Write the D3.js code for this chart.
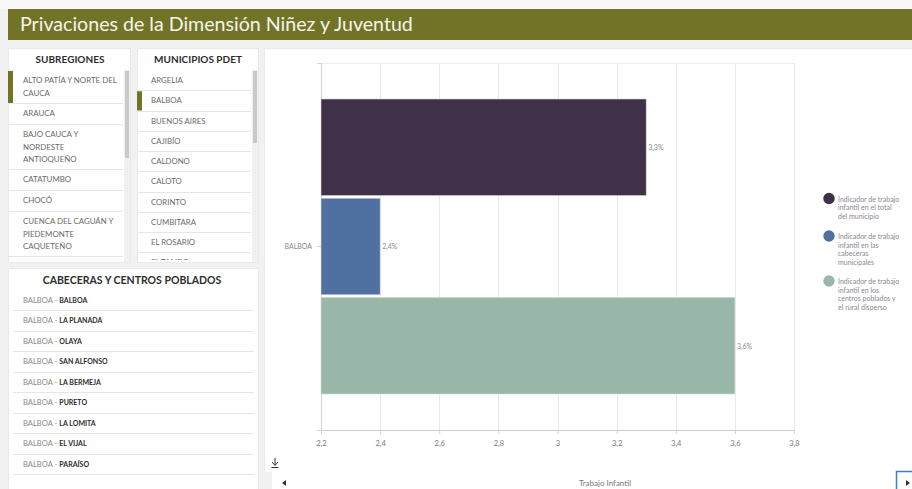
<!DOCTYPE html>
<html>
<head>
<meta charset="utf-8">
<script src="https://cdn.jsdelivr.net/npm/d3@7"></script>
<style>
  html, body { margin: 0; padding: 0; background: #f7f7f7; }
  svg { display: block; font-family: Lato, "Open Sans", sans-serif; }
</style>
</head>
<body>
<svg id="tablero"></svg>
<script>
// datos
var titulo = "Privaciones de la Dimensión Niñez y Juventud";
var subregiones = [
  ["ALTO PATÍA Y NORTE DEL", "CAUCA"],
  ["ARAUCA"],
  ["BAJO CAUCA Y", "NORDESTE", "ANTIOQUEÑO"],
  ["CATATUMBO"],
  ["CHOCÓ"],
  ["CUENCA DEL CAGUÁN Y", "PIEDEMONTE", "CAQUETEÑO"]
];
var municipios = ["ARGELIA", "BALBOA", "BUENOS AIRES", "CAJIBÍO", "CALDONO", "CALOTO",
  "CORINTO", "CUMBITARA", "EL ROSARIO", "EL TAMBO"];
var centros = ["BALBOA", "LA PLANADA", "OLAYA", "SAN ALFONSO", "LA BERMEJA", "PURETO",
  "LA LOMITA", "EL VIJAL", "PARAÍSO"];
var categorias = ["BALBOA"];
var series = [
  ["Indicador de trabajo", "infantil en el total", "del municipio"],
  ["Indicador de trabajo", "infantil en las", "cabeceras", "municipales"],
  ["Indicador de trabajo", "infantil en los", "centros poblados y", "el rural disperso"]
];
var valores = [3.3, 2.4, 3.6];
var colores = ["#3f3148", "#5170a2", "#99b7a9"];
var ticksX = [2.2, 2.4, 2.6, 2.8, 3.0, 3.2, 3.4, 3.6, 3.8];

var width = 912, height = 489;
var svg = d3.select("#tablero").attr("width", width).attr("height", height);

// fondo de página
svg.append("rect").attr("width", width).attr("height", height).attr("fill", "#f1f1f1");
svg.append("rect").attr("width", width).attr("height", 9).attr("fill", "#f8f8f8");

// encabezado
svg.append("rect").attr("x", 8).attr("y", 9).attr("width", width - 8).attr("height", 31)
  .attr("fill", "#717427");
svg.append("text").attr("x", 20).attr("y", 30.5).attr("fill", "#f4f4ea")
  .style("font-size", "19.6px").text(titulo);

// paneles
function panel(x, y, w, h) {
  return svg.append("rect").attr("x", x).attr("y", y).attr("width", w).attr("height", h)
    .attr("fill", "#fff").attr("stroke", "#e9e9e9");
}
panel(8.5, 48.5, 122, 214);
panel(137.5, 48.5, 121, 214);
panel(8.5, 268.5, 250, 230);
panel(264.5, 48.5, 660, 460);

function cabecera(x, y, txt, size) {
  svg.append("text").attr("x", x).attr("y", y).attr("text-anchor", "middle")
    .attr("fill", "#2d2d2d").style("font-size", size + "px").style("font-weight", "bold")
    .text(txt);
}
cabecera(70, 63, "SUBREGIONES", 10);
cabecera(198, 63, "MUNICIPIOS PDET", 10);
cabecera(132, 283.5, "CABECERAS Y CENTROS POBLADOS", 10.5);

// lista de subregiones
var yAcum = 70;
var filasSub = subregiones.map(function(lineas) {
  var h = 9 + 12 * lineas.length;
  var fila = {lineas: lineas, y: yAcum, h: h};
  yAcum += h;
  return fila;
});
var gSub = svg.append("g");
gSub.append("rect").attr("x", 124).attr("y", 70).attr("width", 6).attr("height", 192).attr("fill", "#f0f0f0");
gSub.append("rect").attr("x", 125).attr("y", 71).attr("width", 4).attr("height", 87).attr("fill", "#c9c9c9");
gSub.selectAll(".sep").data(filasSub).enter().append("line")
  .attr("x1", 9).attr("x2", 123)
  .attr("y1", function(d) { return d.y + d.h + 0.5; })
  .attr("y2", function(d) { return d.y + d.h + 0.5; })
  .attr("stroke", "#e6e6e6");
gSub.selectAll(".item").data(filasSub).enter().append("text")
  .attr("fill", "#6a6a6a").style("font-size", "7.9px")
  .each(function(d) {
    d3.select(this).selectAll("tspan").data(d.lineas).enter().append("tspan")
      .attr("x", 23)
      .attr("y", function(l, i) { return d.y + 13 + i * 12.5; })
      .text(function(l) { return l; });
  });
gSub.append("rect").attr("x", 8).attr("y", 71).attr("width", 5).attr("height", 32).attr("fill", "#717427");

// lista de municipios
var yMun = d3.scaleBand().domain(municipios).range([70, 272.5]);
var gMun = svg.append("g");
gMun.append("clipPath").attr("id", "clipMun").append("rect")
  .attr("x", 137).attr("y", 49).attr("width", 121).attr("height", 211);
var gMunC = gMun.append("g").attr("clip-path", "url(#clipMun)");
gMunC.selectAll("line").data(municipios.slice(0, -1)).enter().append("line")
  .attr("x1", 138).attr("x2", 251)
  .attr("y1", function(d) { return Math.round(yMun(d) + yMun.bandwidth()) + 0.5; })
  .attr("y2", function(d) { return Math.round(yMun(d) + yMun.bandwidth()) + 0.5; })
  .attr("stroke", "#e6e6e6");
gMunC.selectAll("text").data(municipios).enter().append("text")
  .attr("x", 151).attr("y", function(d) { return yMun(d) + 13; })
  .attr("fill", "#6a6a6a").style("font-size", "7.8px").text(function(d) { return d; });
gMun.append("rect").attr("x", 252).attr("y", 70).attr("width", 6).attr("height", 192).attr("fill", "#f0f0f0");
gMun.append("rect").attr("x", 253).attr("y", 71).attr("width", 4).attr("height", 72).attr("fill", "#c9c9c9");
gMun.append("rect").attr("x", 137).attr("y", yMun("BALBOA") + 1).attr("width", 5)
  .attr("height", yMun.bandwidth() - 1).attr("fill", "#717427");

// cabeceras y centros poblados
var yCen = d3.scaleBand().domain(centros).range([290, 474]);
var gCen = svg.append("g");
gCen.selectAll("line").data(centros).enter().append("line")
  .attr("x1", 13).attr("x2", 254)
  .attr("y1", function(d) { return Math.round(yCen(d) + yCen.bandwidth()) + 0.5; })
  .attr("y2", function(d) { return Math.round(yCen(d) + yCen.bandwidth()) + 0.5; })
  .attr("stroke", "#e6e6e6");
var tCen = gCen.selectAll("text").data(centros).enter().append("text")
  .attr("x", 23).attr("y", function(d) { return yCen(d) + 13; })
  .style("font-size", "7.6px");
tCen.append("tspan").attr("fill", "#8a8a8a").text("BALBOA - ");
tCen.append("tspan").attr("fill", "#2d2d2d").style("font-weight", "bold").style("font-size", "7px")
  .text(function(d) { return d; });

// gráfico de barras
var plot = {left: 321, right: 794, top: 63, bottom: 430};
var x = d3.scaleLinear().domain([2.2, 3.8]).range([plot.left, plot.right]);
var y0 = d3.scaleBand().domain(categorias).range([plot.top, plot.bottom]).paddingOuter(0.122);
var y1 = d3.scaleBand().domain(d3.range(valores.length)).range([0, y0.bandwidth()]).paddingInner(0.027);

var g = svg.append("g");
g.append("line").attr("x1", plot.left).attr("x2", plot.right)
  .attr("y1", plot.top + 0.5).attr("y2", plot.top + 0.5).attr("stroke", "#ededed");
g.selectAll(".grid").data(ticksX.slice(1)).enter().append("line")
  .attr("x1", function(d) { return Math.round(x(d)) + 0.5; })
  .attr("x2", function(d) { return Math.round(x(d)) + 0.5; })
  .attr("y1", plot.top).attr("y2", plot.bottom)
  .attr("stroke", "#e9e9e9");

var ejeX = g.append("g").attr("transform", "translate(0," + plot.bottom + ")")
  .call(d3.axisBottom(x).tickValues(ticksX).tickSize(4).tickPadding(7)
    .tickFormat(function(d) { return d3.format(".1~f")(d).replace(".", ","); }));
ejeX.select(".domain").attr("stroke", "#cfcfcf");
ejeX.selectAll(".tick line").attr("stroke", "#cfcfcf");
ejeX.selectAll("text").attr("fill", "#7a7a7a").style("font-size", "7.5px")
  .style("font-family", "Lato, sans-serif");

var ejeY = g.append("g").attr("transform", "translate(" + plot.left + ",0)")
  .call(d3.axisLeft(y0).tickSize(4).tickPadding(5));
ejeY.select(".domain").attr("stroke", "#d2d2d2");
ejeY.selectAll(".tick line").attr("stroke", "#cfcfcf");
ejeY.selectAll("text").attr("fill", "#8a8a8a").style("font-size", "7px")
  .style("font-family", "Lato, sans-serif");

var barras = g.selectAll(".cat").data(categorias).enter().append("g")
  .attr("transform", function(d) { return "translate(0," + y0(d) + ")"; });
barras.selectAll("rect").data(valores).enter().append("rect")
  .attr("x", x(2.2))
  .attr("y", function(d, i) { return y1(i); })
  .attr("width", function(d) { return x(d) - x(2.2); })
  .attr("height", y1.bandwidth())
  .attr("fill", function(d, i) { return colores[i]; })
  .attr("stroke", "#d8d8d8").attr("stroke-width", 0.6);
barras.selectAll(".valor").data(valores).enter().append("text")
  .attr("x", function(d) { return x(d) + 2; })
  .attr("y", function(d, i) { return y1(i) + y1.bandwidth() / 2 + 3; })
  .attr("fill", "#8a8a8a").style("font-size", "7px")
  .text(function(d) { return d3.format(".1f")(d).replace(".", ",") + "%"; });

// leyenda
var yLey = [198.5, 236, 281];
var ley = svg.append("g").selectAll("g").data(series).enter().append("g")
  .attr("transform", function(d, i) { return "translate(829," + yLey[i] + ")"; });
ley.append("circle").attr("r", 5.7).attr("fill", function(d, i) { return colores[i]; });
ley.append("text").attr("fill", "#8c8590").style("font-size", "7px")
  .each(function(d) {
    d3.select(this).selectAll("tspan").data(d).enter().append("tspan")
      .attr("x", 9).attr("y", function(l, i) { return 3 + i * 8.5; })
      .text(function(l) { return l; });
  });

// pie del gráfico
svg.append("rect").attr("x", 264).attr("y", 472).attr("width", 8).attr("height", 17).attr("fill", "#f1f1f1");
svg.append("path").attr("d", "M275,458 V465 M272,462 L275,465.5 L278,462 M271.5,467.5 H278.5")
  .attr("fill", "none").attr("stroke", "#333").attr("stroke-width", 1);
svg.append("path").attr("d", "M282,483 L286,480 L286,486 Z").attr("fill", "#333");
svg.append("text").attr("x", 605).attr("y", 486).attr("text-anchor", "middle")
  .attr("fill", "#777").style("font-size", "8px").text("Trabajo Infantil");
svg.append("rect").attr("x", 896.5).attr("y", 471.5).attr("width", 20).attr("height", 20)
  .attr("fill", "#fff").attr("stroke", "#3d7fc2").attr("stroke-width", 1.5);
svg.append("path").attr("d", "M906,480 L910,483 L906,486 Z").attr("fill", "#333");
</script>
</body>
</html>
